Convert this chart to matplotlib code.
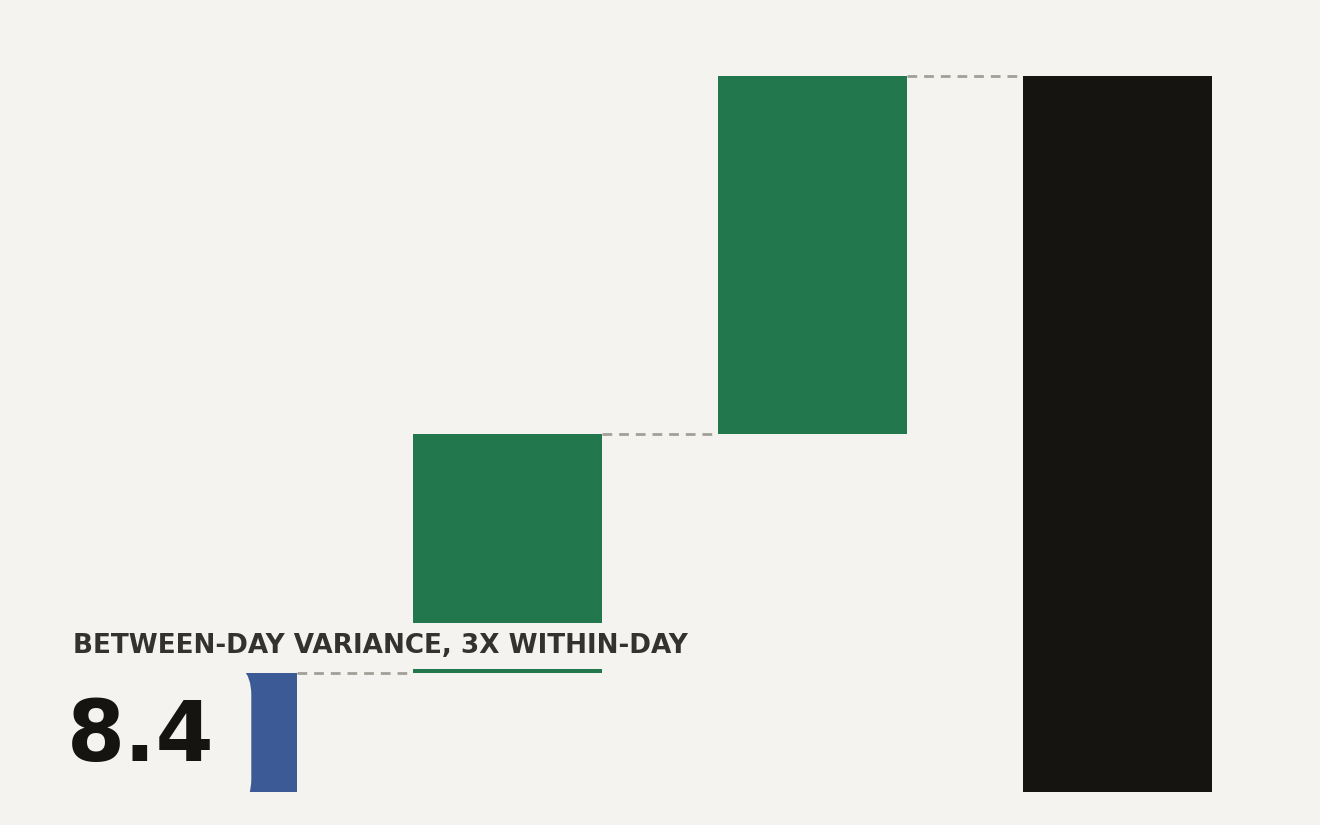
import matplotlib
matplotlib.use("Agg")
import matplotlib.pyplot as plt

# waterfall data
steps = ["Within-day", "Between-day A", "Between-day B", "Total"]
deltas = [8.4, 16.8, 25.2]
total = sum(deltas)
label = "BETWEEN-DAY VARIANCE, 3X WITHIN-DAY"
headline = "8.4"

bg = "#f4f3ef"
blue = "#3c5a96"
green = "#22784c"
black = "#151410"
grey = "#a09f98"

fig = plt.figure(figsize=(13.2, 8.25), dpi=100, facecolor=bg)
ax = fig.add_axes([50 / 1320, 33 / 825, 1220 / 1320, 716 / 825])
ax.set_facecolor(bg)

# bars: first one from zero, then floating steps, then total
bottoms = []
run = 0
for d in deltas:
    bottoms.append(run)
    run += d
heights = deltas + [total]
bottoms = bottoms + [0]
colors = [blue, green, green, black]
w = 0.62
x = list(range(len(heights)))
ax.bar(x, heights, bottom=bottoms, width=w, color=colors, zorder=2)

# dashed connectors between bar tops
for i in range(len(heights) - 1):
    lvl = bottoms[i] + heights[i]
    ax.plot([i + w / 2, i + 1 - w / 2], [lvl, lvl], ls=(0, (3.5, 2.5)),
            color=grey, lw=2, zorder=1, clip_on=False)

ax.set_xlim(-0.5, 3.5)
ax.set_ylim(0, total)
ax.axis("off")

# callout text with background boxes covering the bars
fig.text(73 / 1320, 1 - 646 / 825, label, fontsize=18.9, fontweight="bold",
         color="#33322e", ha="left", va="center", zorder=5,
         bbox=dict(boxstyle="square,pad=0.38", fc=bg, ec="none"))
fig.text(67 / 1320, 1 - 737 / 825, headline, fontsize=60, fontweight="bold",
         color=black, ha="left", va="center", zorder=5,
         bbox=dict(boxstyle="round,pad=0.44,rounding_size=0.42", fc=bg, ec="none"))

fig.savefig("out.png", dpi=100, facecolor=bg)
